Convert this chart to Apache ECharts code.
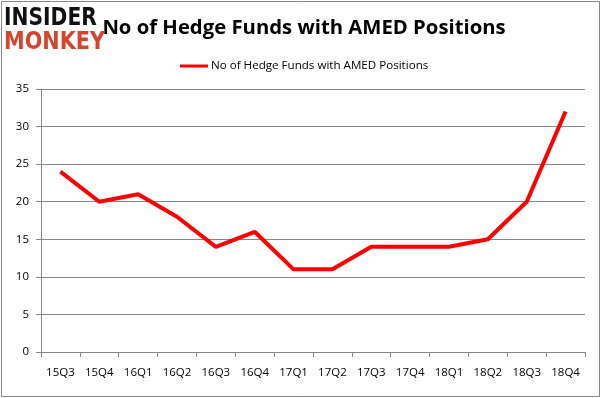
<!DOCTYPE html>
<html>
<head>
<meta charset="utf-8">
<script src="https://cdn.jsdelivr.net/npm/echarts@6/dist/echarts.min.js"></script>
<style>html,body{margin:0;padding:0;background:#fff}#c{width:602px;height:398px}</style>
</head>
<body>
<div id="c"></div>
<script>
var categories = ['15Q3','15Q4','16Q1','16Q2','16Q3','16Q4','17Q1','17Q2','17Q3','17Q4','18Q1','18Q2','18Q3','18Q4'];
var hedgeFunds = [24, 20, 21, 18, 14, 16, 11, 11, 14, 14, 14, 15, 20, 32];
var seriesName = 'No of Hedge Funds with AMED Positions';
var titleText = 'No of Hedge Funds with AMED Positions';

var chart = echarts.init(document.getElementById('c'), null, {renderer: 'canvas'});
var font = '"Open Sans", "Noto Sans", sans-serif';
chart.setOption({
  animation: false,
  backgroundColor: '#fff',
  title: {
    text: titleText, left: 299, top: 13, textAlign: 'center',
    textStyle: {fontFamily: font, fontSize: 20.3, fontWeight: 'bold', color: '#000'}
  },
  legend: {
    data: [seriesName], top: 55, left: 175, itemWidth: 28, itemHeight: 3, itemGap: 3,
    icon: 'rect',
    textStyle: {fontFamily: font, fontSize: 11.6, color: '#000', padding: [0,0,0,-2]}
  },
  grid: {left: 41, right: 17, top: 89, bottom: 46},
  xAxis: {
    type: 'category', data: categories, boundaryGap: true,
    axisLine: {lineStyle: {color: '#868686'}},
    axisTick: {show: true, length: 5, interval: 0, lineStyle: {color: '#868686'}},
    axisLabel: {fontFamily: font, fontSize: 11.5, color: '#000', margin: 15, interval: 0}
  },
  yAxis: {
    type: 'value', min: 0, max: 35, interval: 5,
    axisLine: {show: true, lineStyle: {color: '#868686'}},
    axisTick: {show: true, length: 5, lineStyle: {color: '#868686'}},
    splitLine: {lineStyle: {color: '#868686'}},
    axisLabel: {fontFamily: font, fontSize: 11.5, color: '#000', margin: 12}
  },
  series: [{
    name: seriesName, type: 'line', data: hedgeFunds,
    symbol: 'none', lineStyle: {color: '#ff0000', width: 4}, itemStyle: {color: '#ff0000'}
  }],
  graphic: [
    {type: 'rect', shape: {x: 1.5, y: 1.5, width: 598, height: 395}, style: {fill: 'none', stroke: '#888', lineWidth: 1}, z: 100},
    {type: 'text', x: 4, y: 6, scaleX: 0.81, style: {text: 'INSIDER', fontFamily: '"DejaVu Sans"', fontWeight: 'bold', fontSize: 25, fill: '#111'}, z: 101},
    {type: 'text', x: 4, y: 30, scaleX: 0.83, style: {text: 'MONKEY', fontFamily: '"DejaVu Sans"', fontWeight: 'bold', fontSize: 25, fill: '#d8432c'}, z: 101}
  ]
});
</script>
</body>
</html>
